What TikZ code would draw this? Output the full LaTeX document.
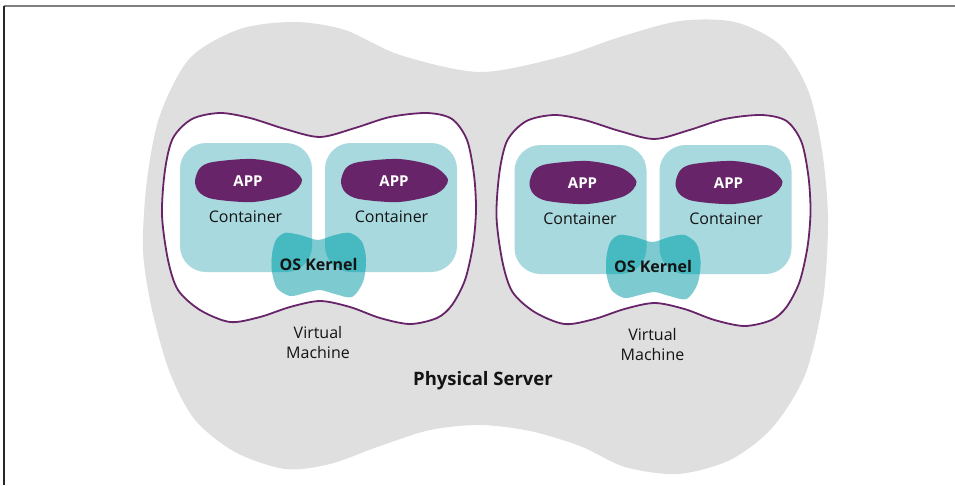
\documentclass[tikz,border=0pt]{standalone}
\usepackage{fontspec}
\setmainfont{Open Sans}
\usetikzlibrary{positioning}
\definecolor{server}{RGB}{223, 223, 223}
\definecolor{vmline}{RGB}{104, 36, 104}
\definecolor{container}{RGB}{168, 217, 223}
\definecolor{kernellight}{RGB}{125, 203, 209}
\definecolor{kerneldark}{RGB}{70, 185, 193}
\definecolor{labeltext}{RGB}{20, 20, 20}

\begin{document}
\begin{tikzpicture}[x=1pt, y=-1pt,
        vmtext/.style={font=\fontsize{16}{20}\selectfont, text=labeltext, align=center, inner sep=0pt, anchor=base},
        boldtext/.style={vmtext, font=\fontsize{16}{20}\selectfont\bfseries},
        apptext/.style={vmtext, text=white, font=\fontsize{15}{18}\selectfont\bfseries},
        box/.style={fill=container, rounded corners=26pt}
    ]
    \useasboundingbox (0,0) rectangle (955,485);
    \draw[line width=1.5pt, gray] (4,6) -- (955,6);
    \draw[line width=1.5pt, black!85] (4,6) -- (4,485);

    % physical server
    \fill[server] plot[smooth cycle, tension=0.5] coordinates {
        (143,250) (147,180) (160,115) (190,58) (240,29) (295,22) (345,30) (400,55)
        (480,72) (560,57) (620,37) (680,21) (735,22) (780,45) (808,90) (822,150)
        (828,220) (823,300) (805,375) (772,428) (730,460) (678,474) (625,467) (580,446)
        (530,431) (480,425) (430,430) (380,446) (330,464) (285,469) (235,452) (195,420)
        (170,373) (152,310)};
    \node[boldtext, font=\fontsize{18.5}{22}\selectfont\bfseries] (server) at (483,385) {Physical Server};

    \foreach \vm/\dx/\dy in {a/0/0, b/334.5/2} {
        \begin{scope}[xshift=\dx pt, yshift=-\dy pt]
            % virtual machine
            \draw[vmline, line width=1.8pt, fill=white] plot[smooth cycle, tension=0.5] coordinates {
                (162,215) (165,170) (173,138) (192,119) (220,113) (250,118) (285,129) (320,137)
                (355,128) (390,117) (427,113) (452,119) (467,140) (474,175) (476,210) (473,245)
                (465,280) (452,305) (437,318) (410,324) (380,318) (350,307) (320,301) (290,307)
                (260,317) (230,322) (200,310) (178,290) (168,260)};
            \node[vmtext] (vm-\vm) at (318,358) {Virtual\\Machine};

            \fill[box] (180,143) rectangle (312,272);
            \fill[box] (325,143) rectangle (457,272);

            % os kernel
            \begin{scope}
                \clip plot[smooth cycle] coordinates {
                    (272,255) (276,240) (285,233) (300,235) (318,240) (335,235) (350,233) (362,242)
                    (366,260) (363,282) (352,297) (335,294) (320,290) (305,293) (290,296) (277,288)
                    (272,272)};
                \fill[kernellight] (260,220) rectangle (380,310);
                \fill[kerneldark, rounded corners=26pt] (180,143) rectangle (312,272);
                \fill[kerneldark, rounded corners=26pt] (325,143) rectangle (457,272);
            \end{scope}
            \node[boldtext] (kernel-\vm) at (318.5,270) {OS Kernel};

            \foreach \c/\cx in {1/0, 2/146} {
                \begin{scope}[xshift=\cx pt]
                    \fill[vmline] plot[smooth cycle] coordinates {
                        (195,181) (200,168) (213,162) (253,159) (287,166) (302,180)
                        (290,194) (253,202) (213,199) (199,192)};
                    \node[apptext] (app\c-\vm) at (248,186) {APP};
                    \node[vmtext] (cont\c-\vm) at (245.5,222) {Container};
                \end{scope}
            }
        \end{scope}
    }
\end{tikzpicture}
\end{document}
